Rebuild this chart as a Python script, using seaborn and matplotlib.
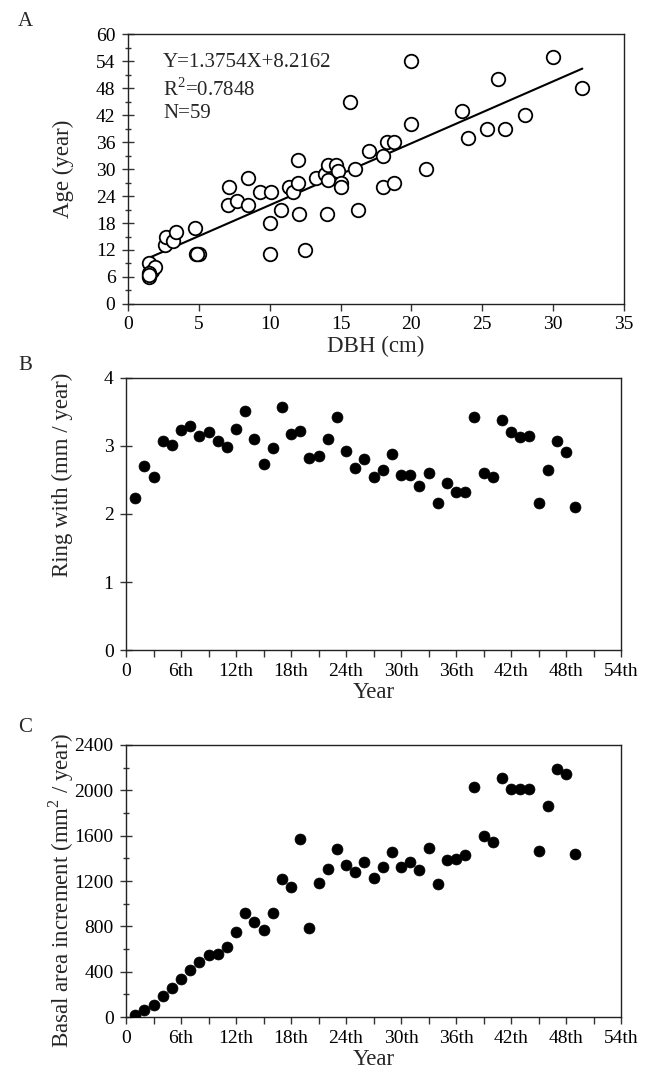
import numpy as np
import pandas as pd
import matplotlib
matplotlib.use("Agg")
import matplotlib.pyplot as plt
from matplotlib.ticker import MultipleLocator, FixedLocator, FixedFormatter
import seaborn as sns

# ---------------- data ----------------
dbh = [1.5, 1.5, 1.7, 1.9, 1.5, 1.5, 2.6, 2.7, 3.2, 3.4, 4.74, 4.8, 5.0, 4.9,
       7.03, 7.1, 7.7, 8.5, 8.5, 9.3, 10.1, 10.05, 10.05, 10.8, 11.35, 11.65,
       12.0, 12.0, 12.05, 12.5, 13.3, 13.9, 14.1, 14.06, 14.1, 14.65, 14.85,
       15.0, 15.05, 15.7, 16.0, 16.2, 17.0, 18.0, 18.0, 18.3, 18.8, 18.8,
       19.96, 20.0, 21.0, 23.6, 24.0, 25.3, 26.1, 26.6, 28.0, 30.0, 32.06]
age = [9.0, 6.1, 7.4, 8.2, 6.8, 6.5, 13, 15, 14, 16, 17, 11, 11, 11,
       22, 26, 23, 28, 22, 25, 25, 18, 11, 21, 26, 25,
       27, 32, 20, 12, 28, 29, 31, 20, 27.5, 31, 29.6,
       27, 26, 45, 30, 21, 34, 33, 26, 36, 36, 27,
       54, 40, 30, 43, 37, 39, 50, 39, 42, 55, 48]
slope, intercept = 1.3754, 8.2162

years = list(range(1, 50))
ring_width = [2.24, 2.71, 2.55, 3.08, 3.02, 3.24, 3.29, 3.14, 3.21, 3.08,
              2.98, 3.25, 3.52, 3.10, 2.74, 2.97, 3.58, 3.18, 3.22, 2.82,
              2.86, 3.10, 3.42, 2.92, 2.68, 2.81, 2.55, 2.65, 2.88, 2.58,
              2.57, 2.41, 2.61, 2.16, 2.46, 2.32, 2.33, 3.43, 2.61, 2.55,
              3.38, 3.21, 3.13, 3.14, 2.16, 2.65, 3.08, 2.91, 2.10]
bai = [18, 65, 103, 188, 253, 338, 417, 482, 543, 558,
       617, 752, 917, 837, 764, 917, 1216, 1143, 1572, 784,
       1184, 1304, 1483, 1342, 1278, 1366, 1225, 1322, 1460, 1328,
       1372, 1298, 1492, 1178, 1387, 1392, 1431, 2027, 1601, 1545,
       2106, 2012, 2012, 2012, 1463, 1865, 2186, 2142, 1434]

year_ticks = [0, 6, 12, 18, 24, 30, 36, 42, 48, 54]
year_labels = ["0", "6th", "12th", "18th", "24th", "30th", "36th", "42th", "48th", "54th"]

# ---------------- style ----------------
sns.set_theme(style="white")
plt.rcParams["font.family"] = ["Liberation Serif", "DejaVu Serif"]
plt.rcParams["mathtext.fontset"] = "custom"
plt.rcParams["mathtext.rm"] = "Liberation Serif"
FS_TICK = 14
FS_LAB = 16.5

fig = plt.figure(figsize=(6.53, 10.83), dpi=100)
axA = fig.add_axes([0.196, 0.7193, 0.7596, 0.2493])
axB = fig.add_axes([0.193, 0.3998, 0.758, 0.2512])
axC = fig.add_axes([0.193, 0.0609, 0.758, 0.2512])

def style_axis(ax):
    for sp in ax.spines.values():
        sp.set_color("#222222")
        sp.set_linewidth(1.0)
    ax.tick_params(bottom=True, left=True, top=False, right=False,
                   which="both")
    ax.tick_params(axis="both", which="major", width=1.0, color="#333333",
                   labelsize=FS_TICK, labelcolor="black")
    ax.tick_params(axis="x", which="major", direction="out", length=5, pad=4)
    ax.tick_params(axis="x", which="minor", direction="out", length=5, width=1.0,
                   color="#333333")
    ax.tick_params(axis="y", which="major", direction="inout", length=8, pad=5)
    ax.tick_params(axis="y", which="minor", direction="inout", length=5, width=1.0,
                   color="#333333")

def place_ylabel(ax, x, y):
    ax.yaxis.set_label_coords(x, y)
    ax.yaxis.label.set_verticalalignment("center")
    ax.yaxis.label.set_horizontalalignment("center")

# ---- Panel A ----
dfA = pd.DataFrame({"DBH": dbh, "Age": age})
sns.scatterplot(data=dfA, x="DBH", y="Age", ax=axA, marker="o", s=95,
                facecolor="white", edgecolor="black", linewidth=1.3, zorder=3)
xfit = np.array([min(dbh), max(dbh)])
dfFit = pd.DataFrame({"x": xfit, "y": slope * xfit + intercept})
sns.lineplot(data=dfFit, x="x", y="y", ax=axA, color="black", linewidth=1.5, zorder=2)
axA.set_xlim(0, 35)
axA.set_ylim(0, 60)
axA.xaxis.set_major_locator(MultipleLocator(5))
axA.yaxis.set_major_locator(MultipleLocator(6))
axA.yaxis.set_minor_locator(MultipleLocator(3))
axA.set_xlabel("DBH (cm)", fontsize=FS_LAB, labelpad=2)
axA.set_ylabel("Age (year)", fontsize=FS_LAB)
style_axis(axA)
place_ylabel(axA, -0.131, 0.5)
axA.text(0.0706, 0.893, f"Y={slope}X+{intercept}", transform=axA.transAxes,
         fontsize=15, va="center")
axA.text(0.0706, 0.793, "R$^{2}$=0.7848", transform=axA.transAxes,
         fontsize=15, va="center")
axA.text(0.0706, 0.704, "N=59", transform=axA.transAxes, fontsize=15, va="center")

# ---- Panel B ----
dfB = pd.DataFrame({"Year": years, "Ring": ring_width})
sns.scatterplot(data=dfB, x="Year", y="Ring", ax=axB, marker="o", s=62,
                color="black", edgecolor="black", linewidth=0.5, zorder=3)
axB.set_xlim(0, 54)
axB.set_ylim(0, 4)
axB.xaxis.set_major_locator(FixedLocator(year_ticks))
axB.xaxis.set_major_formatter(FixedFormatter(year_labels))
axB.xaxis.set_minor_locator(MultipleLocator(3))
axB.yaxis.set_major_locator(MultipleLocator(1))
axB.set_xlabel("Year", fontsize=FS_LAB, labelpad=2)
axB.set_ylabel("Ring with (mm / year)", fontsize=FS_LAB)
style_axis(axB)
place_ylabel(axB, -0.129, 0.643)

# ---- Panel C ----
dfC = pd.DataFrame({"Year": years, "BAI": bai})
sns.scatterplot(data=dfC, x="Year", y="BAI", ax=axC, marker="o", s=62,
                color="black", edgecolor="black", linewidth=0.5, zorder=3)
axC.set_xlim(0, 54)
axC.set_ylim(0, 2400)
axC.xaxis.set_major_locator(FixedLocator(year_ticks))
axC.xaxis.set_major_formatter(FixedFormatter(year_labels))
axC.xaxis.set_minor_locator(MultipleLocator(3))
axC.yaxis.set_major_locator(MultipleLocator(400))
axC.yaxis.set_minor_locator(MultipleLocator(200))
axC.set_xlabel("Year", fontsize=FS_LAB, labelpad=2)
axC.set_ylabel("Basal area increment (mm$^{2}$ / year)", fontsize=FS_LAB)
style_axis(axC)
place_ylabel(axC, -0.131, 0.467)

for ax in (axA, axB, axC):
    leg = ax.get_legend()
    if leg:
        leg.remove()

# panel letters
fig.text(25 / 653, 1 - 22 / 1083, "A", fontsize=15, ha="center", va="center")
fig.text(25 / 653, 1 - 365 / 1083, "B", fontsize=15, ha="center", va="center")
fig.text(25 / 653, 1 - 727 / 1083, "C", fontsize=15, ha="center", va="center")

fig.savefig("out.png", dpi=100)
